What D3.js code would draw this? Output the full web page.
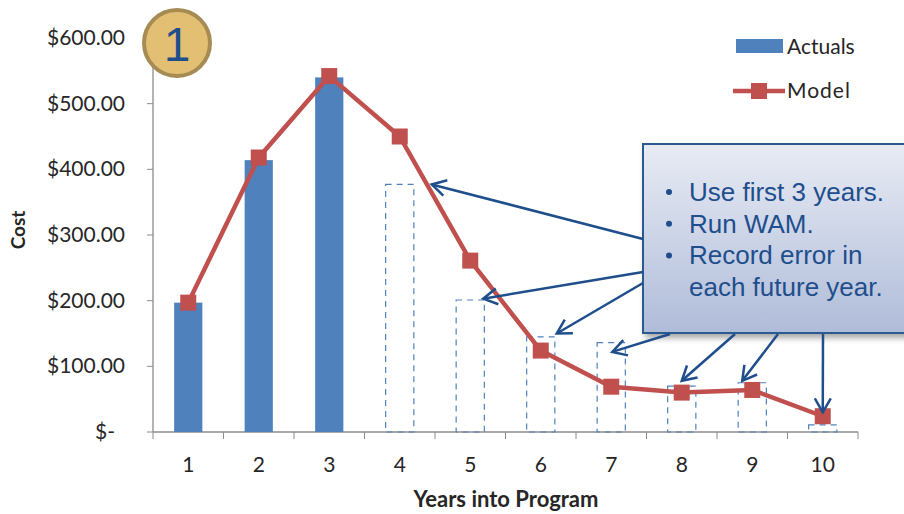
<!DOCTYPE html>
<html>
<head>
<meta charset="utf-8">
<script src="https://cdnjs.cloudflare.com/ajax/libs/d3/7.8.5/d3.min.js"></script>
<style>
  html, body { margin: 0; padding: 0; background: #fff; }
  svg { display: block; }
  .tick-label { font-family: Lato, "Open Sans", sans-serif; font-size: 21px; fill: #262626; }
</style>
</head>
<body>
<svg id="chart" width="904" height="514"></svg>
<script>
  // data
  var years = [1, 2, 3, 4, 5, 6, 7, 8, 9, 10];
  var actuals = [197, 414, 540, 377, 201, 145, 136, 70, 75, 11];
  var model = [197, 418, 542, 450, 261, 124, 69, 60, 64, 24];
  var knownYears = 3; // first 3 years are solid, rest dashed
  var yTicks = [0, 100, 200, 300, 400, 500, 600];
  var notes = ['Use first 3 years.', 'Run WAM.', 'Record error in', 'each future year.'];
  // arrow targets: [year, value, x offset in px from band centre]
  var arrowTargets = [[4, 377, 32], [5, 203, 13], [6, 150, 16], [7, 122, 1], [8, 78, 0], [9, 78, -10], [10, 30, 0]];

  var svg = d3.select('#chart');
  var blue = '#4F81BD', red = '#C0504D', dark = '#1F4E8C';

  var x = d3.scaleBand().domain(years).range([153, 858]);
  var y = d3.scaleLinear().domain([0, 600]).range([432, 38]);
  var barW = x.bandwidth() * 0.4;
  var cx = function (d) { return x(d) + x.bandwidth() / 2; };

  var defs = svg.append('defs');
  var grad = defs.append('linearGradient').attr('id', 'boxGrad')
    .attr('x1', 0).attr('y1', 0).attr('x2', 0).attr('y2', 1);
  grad.append('stop').attr('offset', '0%').attr('stop-color', '#E8EBF4');
  grad.append('stop').attr('offset', '100%').attr('stop-color', '#AFBCD9');
  var shadow = defs.append('filter').attr('id', 'shadow')
    .attr('x', '-10%').attr('y', '-10%').attr('width', '130%').attr('height', '130%');
  shadow.append('feDropShadow').attr('dx', 3).attr('dy', 4).attr('stdDeviation', 3)
    .attr('flood-color', '#000').attr('flood-opacity', 0.35);
  defs.append('marker').attr('id', 'vhead')
    .attr('markerUnits', 'userSpaceOnUse')
    .attr('viewBox', '-16 -10 20 20').attr('refX', 0).attr('refY', 0)
    .attr('markerWidth', 20).attr('markerHeight', 20).attr('orient', 'auto')
    .append('path').attr('d', 'M-14,-8 L0,0 L-14,8')
    .attr('fill', 'none').attr('stroke', dark).attr('stroke-width', 2.5);

  // axes
  var yAxis = svg.append('g');
  yAxis.append('line').attr('x1', 153).attr('x2', 153).attr('y1', y(600)).attr('y2', y(0))
    .attr('stroke', '#8C8C8C').attr('stroke-width', 1.3);
  yAxis.selectAll('.yt').data(yTicks).enter().append('line')
    .attr('x1', 147).attr('x2', 153).attr('y1', d => y(d)).attr('y2', d => y(d))
    .attr('stroke', '#8C8C8C');
  yAxis.selectAll('.yl').data(yTicks).enter().append('text')
    .attr('class', 'tick-label').attr('text-anchor', 'end')
    .attr('x', d => d === 0 ? 115 : 125).attr('y', d => y(d) + 7)
    .text(d => d === 0 ? '$-' : '$' + d3.format('.2f')(d));

  var xAxis = svg.append('g');
  xAxis.append('line').attr('x1', 153).attr('x2', 858).attr('y1', y(0)).attr('y2', y(0))
    .attr('stroke', '#8C8C8C').attr('stroke-width', 1.3);
  xAxis.selectAll('.xt').data(years.concat(['end'])).enter().append('line')
    .attr('x1', d => d === 'end' ? 858 : x(d)).attr('x2', d => d === 'end' ? 858 : x(d))
    .attr('y1', y(0)).attr('y2', y(0) + 7).attr('stroke', '#8C8C8C');
  xAxis.selectAll('.xl').data(years).enter().append('text')
    .attr('class', 'tick-label').attr('text-anchor', 'middle')
    .attr('x', d => cx(d)).attr('y', 472).text(d => d);

  svg.append('text').attr('x', 506).attr('y', 507).attr('text-anchor', 'middle')
    .style('font-family', 'Lato, sans-serif').style('font-weight', 'bold').style('font-size', '22px')
    .attr('fill', '#262626').text('Years into Program');
  svg.append('text').attr('transform', 'translate(25,230) rotate(-90)').attr('text-anchor', 'middle')
    .style('font-family', 'Lato, sans-serif').style('font-weight', 'bold').style('font-size', '19px')
    .attr('fill', '#262626').text('Cost');

  // bars
  var bars = years.map(function (yr, i) { return { year: yr, value: actuals[i], known: i < knownYears }; });
  svg.selectAll('.bar').data(bars).enter().append('rect')
    .attr('x', d => cx(d.year) - barW / 2).attr('width', barW)
    .attr('y', d => y(d.value)).attr('height', d => y(0) - y(d.value))
    .attr('fill', d => d.known ? blue : 'none')
    .attr('stroke', d => d.known ? 'none' : blue)
    .attr('stroke-width', 1.2)
    .attr('stroke-dasharray', d => d.known ? null : '6,5');

  // model line
  var pts = years.map(function (yr, i) { return [cx(yr), y(model[i])]; });
  svg.append('path').attr('d', d3.line()(pts)).attr('fill', 'none')
    .attr('stroke', red).attr('stroke-width', 4.5).attr('stroke-linejoin', 'round');
  svg.selectAll('.mk').data(pts).enter().append('rect')
    .attr('x', d => d[0] - 8).attr('y', d => d[1] - 8).attr('width', 16).attr('height', 16)
    .attr('fill', red);

  // legend
  var lg = svg.append('g').style('font-family', 'Lato, sans-serif').style('font-size', '21px').attr('fill', '#262626');
  lg.append('rect').attr('x', 736).attr('y', 39).attr('width', 47).attr('height', 14).attr('fill', blue);
  lg.append('text').attr('x', 787).attr('y', 54).text('Actuals');
  lg.append('line').attr('x1', 733).attr('x2', 785).attr('y1', 91).attr('y2', 91)
    .attr('stroke', red).attr('stroke-width', 4.5);
  lg.append('rect').attr('x', 751).attr('y', 83).attr('width', 16).attr('height', 16).attr('fill', red);
  lg.append('text').attr('x', 787).attr('y', 98).style('letter-spacing', '1px').text('Model');

  // badge
  svg.append('circle').attr('cx', 177).attr('cy', 43).attr('r', 33)
    .attr('fill', '#E3BF74').attr('stroke', '#A68B52').attr('stroke-width', 4);
  svg.append('text').attr('x', 177).attr('y', 61).attr('text-anchor', 'middle')
    .style('font-family', '"Liberation Sans", Arial, sans-serif').style('font-size', '48px')
    .attr('fill', '#1F4E8C').text('1');

  // callout box
  var box = { x: 643, y: 144, w: 270, h: 189 };
  svg.append('rect').attr('x', box.x).attr('y', box.y).attr('width', box.w).attr('height', box.h)
    .attr('fill', 'url(#boxGrad)').attr('stroke', '#2A5A8F').attr('stroke-width', 2)
    .attr('filter', 'url(#shadow)');
  var tg = svg.append('g').style('font-family', '"Liberation Sans", Arial, sans-serif')
    .style('font-size', '26px').attr('fill', '#1F4E8C');
  notes.forEach(function (t, i) {
    var by = 201 + i * 31.7;
    if (i < 3) tg.append('circle').attr('cx', 669).attr('cy', by - 9).attr('r', 3).attr('fill', '#1F4E8C');
    tg.append('text').attr('x', 689).attr('y', by).text(t);
  });

  // arrows from the box
  var tails = [[643, 239], [643, 272], [643, 283], [670, 334], [735, 334], [778, 334], [823, 334]];
  arrowTargets.forEach(function (a, i) {
    svg.append('line')
      .attr('x1', tails[i][0]).attr('y1', tails[i][1])
      .attr('x2', cx(a[0]) + a[2]).attr('y2', y(a[1]))
      .attr('stroke', dark).attr('stroke-width', 2.5)
      .attr('marker-end', 'url(#vhead)');
  });
</script>
</body>
</html>
